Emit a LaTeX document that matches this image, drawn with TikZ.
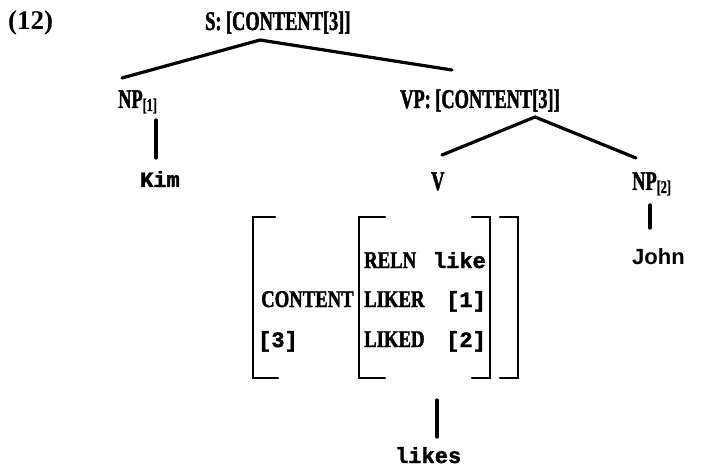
\documentclass[tikz,border=0pt]{standalone}
\usepackage{fontspec}
\newfontfamily\capf{Liberation Serif}[UprightFont=* Bold,FakeStretch=0.68,FakeBold=1.6]
\newfontfamily\capa{Liberation Serif}[UprightFont=* Bold,FakeStretch=0.78,FakeBold=1.6]
\newfontfamily\plainf{Liberation Serif}[UprightFont=* Bold]
\newfontfamily\monof{Liberation Mono}[UprightFont=* Bold,FakeBold=1.8]
\newfontfamily\sansf{Liberation Sans}[UprightFont=* Bold]
\newcommand{\subtag}[1]{\raisebox{-3pt}{\fontsize{18}{18}\selectfont #1}}
\begin{document}
\begin{tikzpicture}[x=1pt,y=-1pt,line cap=round,line join=miter,
  lab/.style={inner sep=0pt,anchor=base west,font=\capf\fontsize{27}{27}\selectfont},
  word/.style={inner sep=0pt,anchor=base west,font=\monof\fontsize{22}{22}\selectfont},
  avm/.style={inner sep=0pt,anchor=base west,font=\capa\fontsize{24}{24}\selectfont},
  avmm/.style={inner sep=0pt,anchor=base east,font=\monof\fontsize{22}{22}\selectfont},
  branch/.style={line width=3.2pt},
  brk/.style={line width=2.6pt}]
\useasboundingbox (0,0) rectangle (722,470);

% labels
\node[inner sep=0pt,anchor=base west,font=\plainf\fontsize{27}{27}\selectfont] (ex) at (8,30) {(12)};
\node[lab] (S) at (205,30) {S:\,[CONTENT[3]]};
\node[lab] (NP1) at (118,108) {NP\subtag{[1]}};
\node[lab] (VP) at (400,108) {VP:\,[CONTENT[3]]};
\node[word] (Kim) at (140,187) {Kim};
\node[lab] (V) at (431,190) {V};
\node[lab] (NP2) at (632,190) {NP\subtag{[2]}};
\node[inner sep=0pt,anchor=base west,font=\sansf\fontsize{22}{22}\selectfont] (John) at (632,265) {John};
\node[word] (likes) at (395,463) {likes};

% branch end points
\coordinate (Sb) at (260,40);
\coordinate (NP1t) at (122,78);
\coordinate (VPt) at (452,70);
\coordinate (NP1b) at (156,120);
\coordinate (Kimt) at (156,158);
\coordinate (VPb) at (535,117);
\coordinate (Vt) at (442,155);
\coordinate (NP2t) at (636,158);
\coordinate (NP2b) at (650,205);
\coordinate (Johnt) at (650,228);
\coordinate (AVMb) at (437,400);
\coordinate (likest) at (437,437);

\draw[branch] (NP1t) -- (Sb) -- (VPt);
\draw[branch] (NP1b) -- (Kimt);
\draw[branch] (Vt) -- (VPb) -- (NP2t);
\draw[branch] (NP2b) -- (Johnt);
\draw[branch] (AVMb) -- (likest);

% AVM brackets
\draw[brk] (275,217) -- (253,217) -- (253,378) -- (278,378);
\draw[brk] (385,217) -- (359,217) -- (359,378) -- (385,378);
\draw[brk] (472,217) -- (490,217) -- (490,378) -- (472,378);
\draw[brk] (500,217) -- (518,217) -- (518,378) -- (500,378);

% AVM contents
\node[avm] (content) at (261,307) {CONTENT};
\node[avmm] (tag3) at (298,347) {[3]};
\node[avm] (reln) at (364,268) {RELN};
\node[avmm] (like) at (486,268) {like};
\node[avm] (liker) at (364,307) {LIKER};
\node[avmm] (tag1) at (486,307) {[1]};
\node[avm] (liked) at (364,347) {LIKED};
\node[avmm] (tag2) at (486,347) {[2]};
\end{tikzpicture}
\end{document}
